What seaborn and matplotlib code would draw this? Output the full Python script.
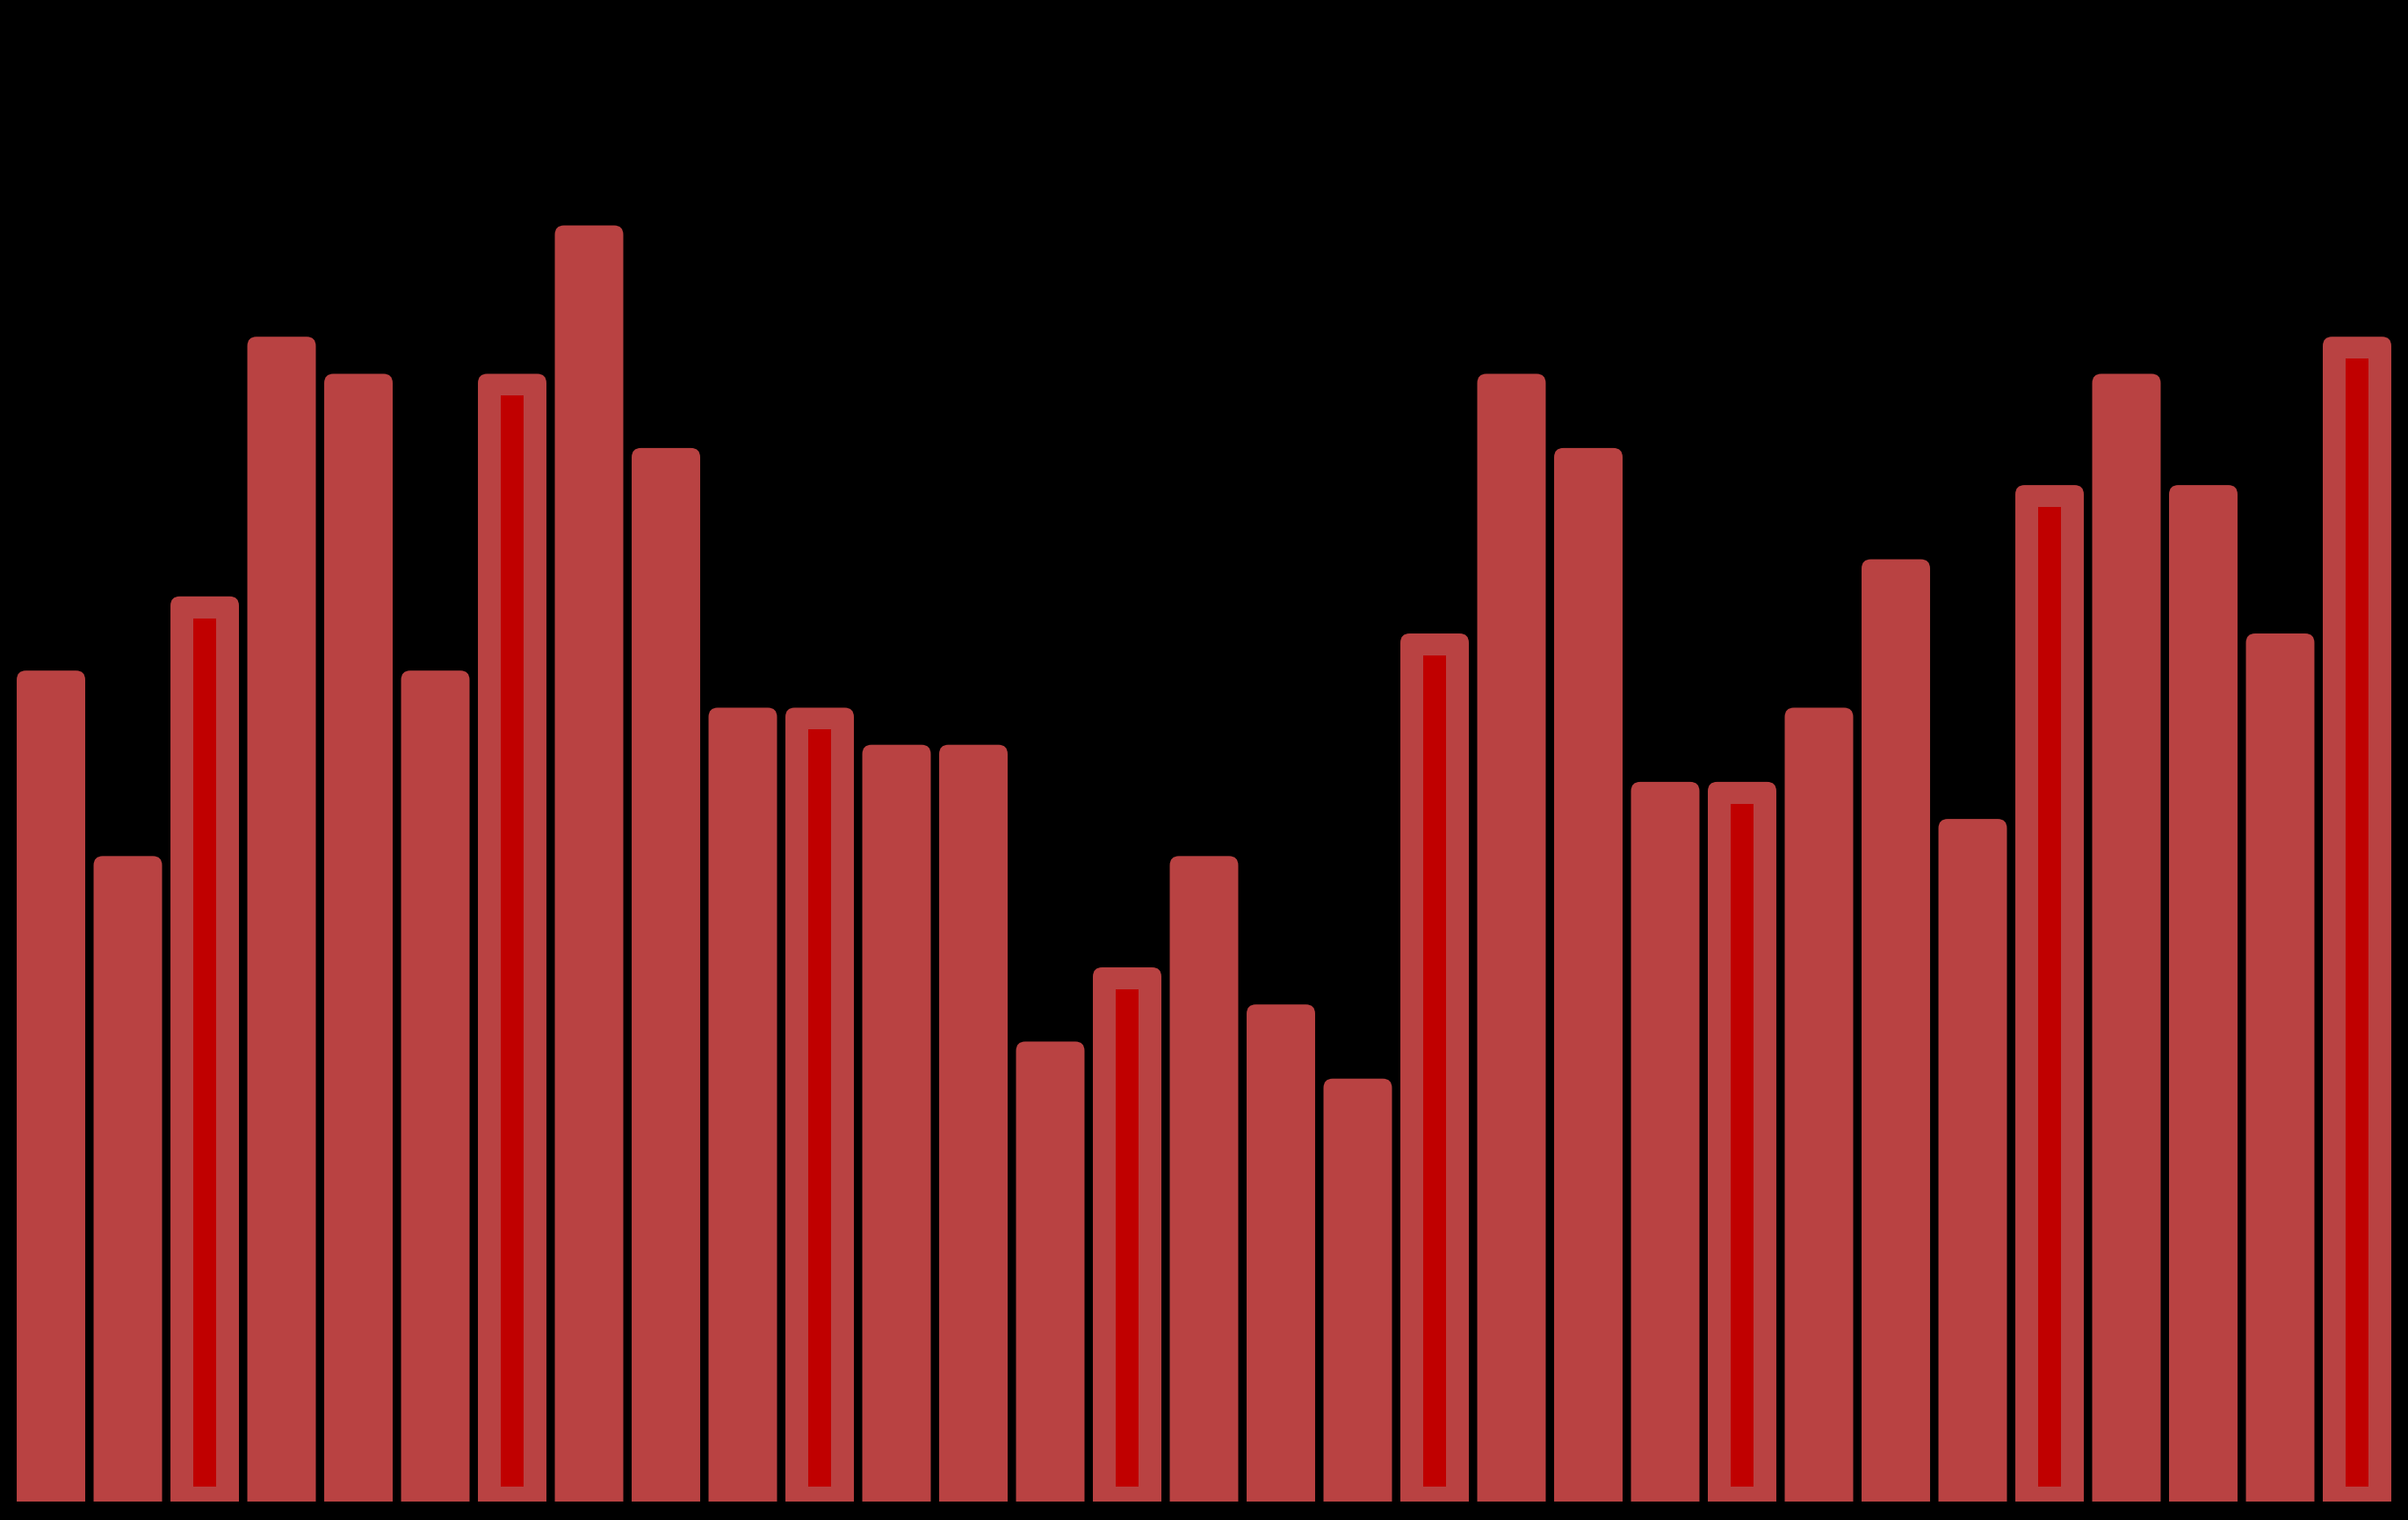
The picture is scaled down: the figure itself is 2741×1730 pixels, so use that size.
import numpy as np
import pandas as pd
import seaborn as sns
import matplotlib.pyplot as plt
from matplotlib.patches import FancyBboxPatch

# значения столбцов
categories = [f"c{i + 1}" for i in range(31)]
values = [22.4, 17.4, 24.4, 31.4, 30.4, 22.4, 30.4, 34.4, 28.4, 21.4,
          21.4, 20.4, 20.4, 12.4, 14.4, 17.4, 13.4, 11.4, 23.4, 30.4,
          28.4, 19.4, 19.4, 21.4, 25.4, 18.4, 27.4, 30.4, 27.4, 23.4, 31.4]
# столбцы с внутренней отметкой
highlighted = ["c3", "c7", "c11", "c15", "c19", "c23", "c27", "c31"]

outer_color = "#b94242"
inner_color = "#c00000"

df = pd.DataFrame({"cat": categories, "value": values})

sns.set_style("white")
fig = plt.figure(figsize=(27.41, 17.31), dpi=100, facecolor="black")
ax = fig.add_axes([0, 21 / 1731, 1, 1710 / 1731])
ax.set_facecolor("black")

sns.barplot(data=df, x="cat", y="value", color=outer_color, saturation=1,
            width=0.891, ax=ax)

ax.set_xlim(-0.663, 30.663)
ax.set_ylim(0, 40.5)

# скругляем верхние углы: заменяем прямоугольники на FancyBboxPatch
rx = 0.12
ry = 0.25
for p in list(ax.patches):
    x, y = p.get_x(), p.get_y()
    w, h = p.get_width(), p.get_height()
    fb = FancyBboxPatch((x, y - 0.5), w, h + 0.5,
                        boxstyle=f"round,pad=0,rounding_size={rx}",
                        mutation_aspect=ry / rx,
                        facecolor=outer_color, edgecolor="none",
                        linewidth=0, zorder=2)
    p.remove()
    ax.add_patch(fb)

# внутренние тёмно-красные полосы
pos = [categories.index(c) for c in highlighted]
hv = np.array([values[i] for i in pos])
ax.bar(pos, hv - 0.4 - 0.59, bottom=0.4, width=0.286,
       color=inner_color, edgecolor="none", linewidth=0, zorder=3)

ax.set_xlabel("")
ax.set_ylabel("")
ax.set_xticks([])
ax.set_yticks([])
sns.despine(ax=ax, left=True, bottom=True)

fig.savefig("out.png", dpi=100, facecolor="black")
